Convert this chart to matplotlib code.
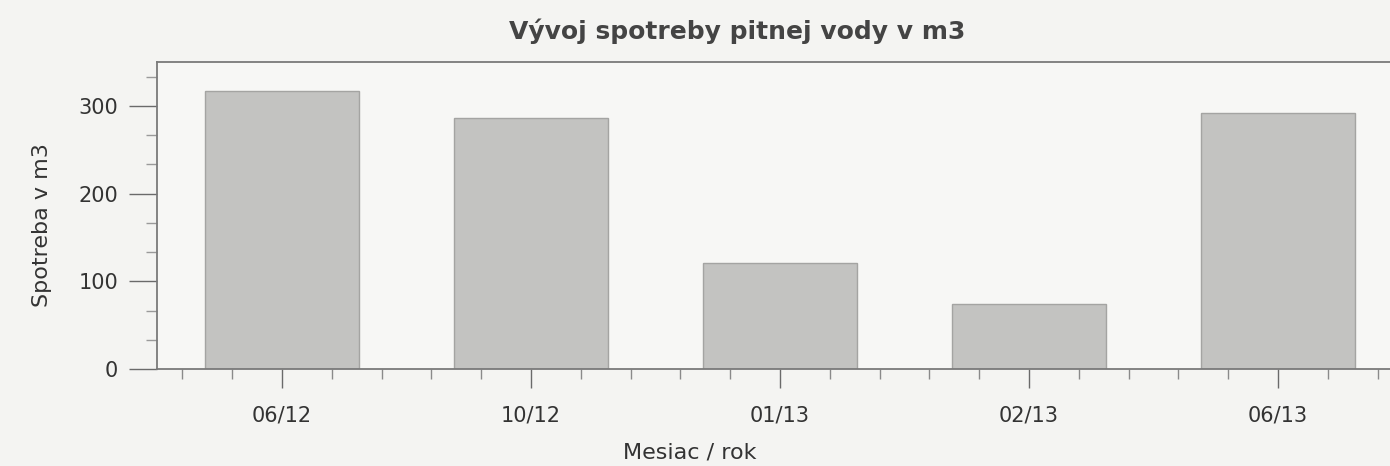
import matplotlib
matplotlib.use('Agg')
import matplotlib.pyplot as plt
from matplotlib.ticker import MultipleLocator

# data
months = ['06/12', '10/12', '01/13', '02/13', '06/13']
usage = [317, 286, 121, 74, 292]

fig = plt.figure(figsize=(13.9, 4.66), dpi=100, facecolor='#f4f4f2')
ax = fig.add_axes([0.113, 0.208, 0.887, 0.659], facecolor='#f7f7f5')

x = range(len(months))
ax.bar(x, usage, width=0.62, color='#c3c3c1', edgecolor='#a4a4a2', linewidth=1)

ax.set_xlim(-0.502, 4.45)
ax.set_ylim(0, 350)
ax.set_xticks(list(x))
ax.set_xticklabels(months)
ax.xaxis.set_minor_locator(MultipleLocator(0.2))
ax.set_yticks([0, 100, 200, 300])
ax.yaxis.set_minor_locator(MultipleLocator(100 / 3))

for s in ['left', 'bottom', 'top']:
    ax.spines[s].set_color('#7a7a7a')
    ax.spines[s].set_linewidth(1.3)
ax.spines['right'].set_visible(False)

ax.tick_params(axis='x', which='major', length=14, width=1, color='#6a6a6a', pad=12,
               labelsize=15, labelcolor='#333333')
ax.tick_params(axis='x', which='minor', length=7, width=1, color='#8a8a8a')
ax.tick_params(axis='y', which='major', length=20, width=1, color='#6a6a6a', pad=8,
               labelsize=15, labelcolor='#333333')
ax.tick_params(axis='y', which='minor', length=8, width=1, color='#9a9a9a')

fig.text(42 / 1390, 1 - 225 / 466, 'Spotreba v m3', rotation=90, ha='center',
         va='center', fontsize=16, color='#333333')
fig.text(690 / 1390, 1 - 453 / 466, 'Mesiac / rok', ha='center', va='center',
         fontsize=16, color='#333333')
fig.text(737 / 1390, 1 - 31 / 466, 'Vývoj spotreby pitnej vody v m3', ha='center',
         va='center', fontsize=18, fontweight='bold', color='#444444')

fig.savefig('out.png', dpi=100, facecolor=fig.get_facecolor())
